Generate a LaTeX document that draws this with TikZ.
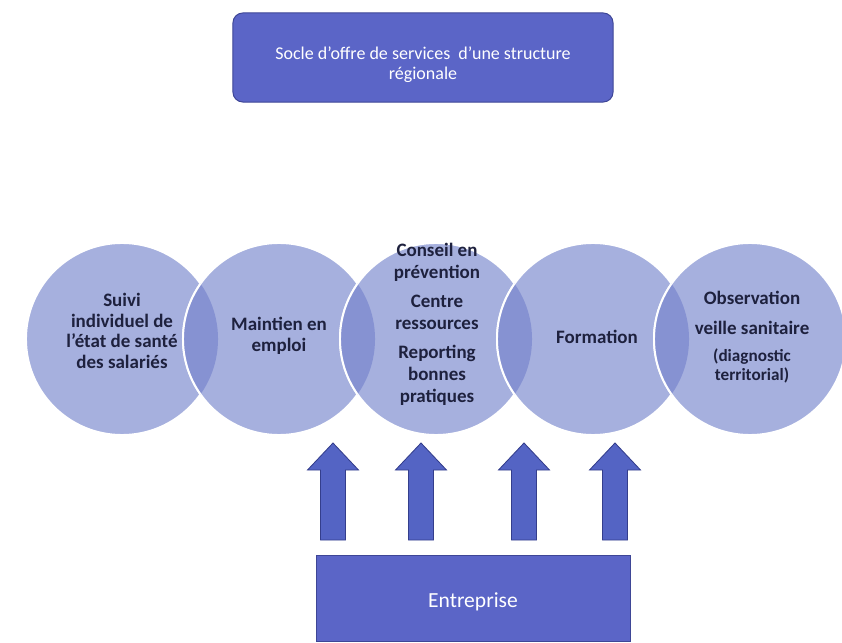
\documentclass[tikz,border=0pt]{standalone}
\usepackage{fontspec}
\setmainfont{Carlito}
\usepackage{tikz}
\usetikzlibrary{positioning}
\definecolor{socle}{RGB}{91,101,199}
\definecolor{socleline}{RGB}{62,70,150}
\definecolor{bulle}{RGB}{166,176,222}
\definecolor{lentille}{RGB}{134,146,210}
\definecolor{fleche}{RGB}{84,100,196}
\definecolor{flecheline}{RGB}{52,62,140}
\definecolor{encre}{RGB}{30,33,62}
\newcommand{\petitfont}{\fontsize{12.2pt}{13pt}\selectfont}

\tikzset{
  boite/.style={draw=socleline, fill=socle, line width=0.7pt, text=white},
  bulletxt/.style={text=encre, align=center,
    font=\bfseries\fontsize{13.5pt}{14.6pt}\selectfont},
  uparrow/.style={draw=flecheline, fill=fleche, line width=0.6pt, line join=miter}
}

\begin{document}
\begin{tikzpicture}[x=0.025cm, y=-0.025cm, every node/.style={inner sep=0pt}]
\useasboundingbox (0,0) rectangle (842,643);
% ---- top: the regional base
\node[boite, rounded corners=7pt, minimum width=9.5cm, minimum height=2.225cm]
  (socle) at (423,57.5) {};
\node[text=white, align=center, font=\fontsize{12.8pt}{14.2pt}\selectfont]
  (socletxt) at (423,65) {Socle d’offre de services\ \ d’une structure\\ régionale};
% ---- the five services
\foreach \cx in {122,279,436,593,750}
  \filldraw[fill=bulle, draw=white, line width=1.4pt] (\cx,339) circle (2.4cm);
\foreach \cx/\px in {279/122,436/279,593/436,750/593}{
  \begin{scope}
    \clip (\px,339) circle (2.4cm);
    \filldraw[fill=lentille, draw=white, line width=1.4pt] (\cx,339) circle (2.4cm);
  \end{scope}
}
\node[bulletxt] (suivi) at (122,331)
  {Suivi\\ individuel de\\ l’état de santé\\ des salariés};
\node[bulletxt] (maintien) at (279,336) {Maintien en\\ emploi};
\node[bulletxt] (conseil) at (437,324)
  {Conseil en\\[1pt] prévention\\[6pt] Centre\\[1pt] ressources\\[6pt]
   Reporting\\[1pt] bonnes\\[1pt] pratiques};
\node[bulletxt] (formation) at (597,337) {Formation};
\node[bulletxt] (observation) at (752,337)
  {Observation\\[6.5pt] veille sanitaire\\[5pt] {\petitfont(diagnostic}\\[-1.6pt]
   {\petitfont territorial)}};
% ---- bottom: the company pushes up
\node[boite, minimum width=7.825cm, minimum height=2.15cm] (ent) at (473.5,598) {};
\node[text=white, font=\fontsize{15.3pt}{17pt}\selectfont] (enttxt) at (473,602) {Entreprise};
\foreach \ax in {333,421,524,615}
  \draw[uparrow] (\ax-12.5,540) -- (\ax-12.5,470) -- (\ax-25.5,470) -- (\ax,443)
    -- (\ax+25.5,470) -- (\ax+12.5,470) -- (\ax+12.5,540) -- cycle;
\end{tikzpicture}
\end{document}
